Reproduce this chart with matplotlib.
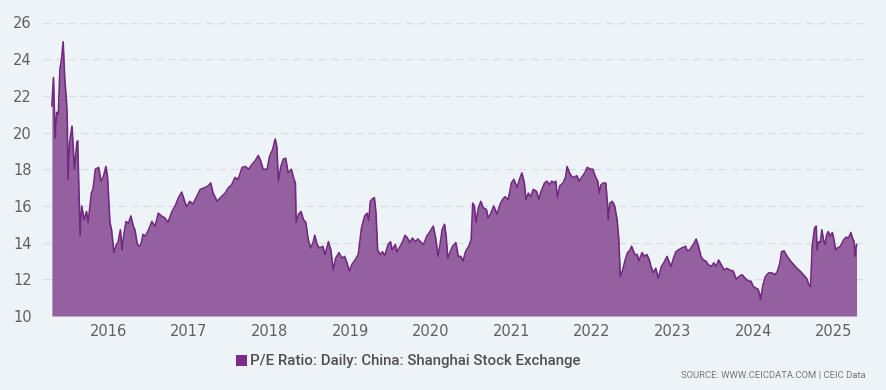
import matplotlib
matplotlib.use("Agg")
import matplotlib.pyplot as plt
from matplotlib.patches import Rectangle

# decimal-year positions and P/E values
years = [
    2015.30, 2015.32, 2015.34, 2015.36, 2015.38, 2015.40, 2015.42, 2015.44, 2015.46, 2015.48,
    2015.49, 2015.50, 2015.52, 2015.55, 2015.58, 2015.61, 2015.62, 2015.64, 2015.65, 2015.67,
    2015.70, 2015.73, 2015.75, 2015.79, 2015.81, 2015.84, 2015.88, 2015.91, 2015.94, 2015.97,
    2015.99, 2016.02, 2016.04, 2016.07, 2016.10, 2016.12, 2016.15, 2016.17, 2016.19, 2016.22,
    2016.25, 2016.28, 2016.31, 2016.33, 2016.36, 2016.39, 2016.41, 2016.43, 2016.46, 2016.50,
    2016.54, 2016.58, 2016.62, 2016.66, 2016.70, 2016.74, 2016.79, 2016.83, 2016.87, 2016.91,
    2016.94, 2016.97, 2017.01, 2017.05, 2017.10, 2017.14, 2017.20, 2017.24, 2017.27, 2017.30,
    2017.35, 2017.39, 2017.45, 2017.49, 2017.53, 2017.57, 2017.61, 2017.66, 2017.70, 2017.74,
    2017.78, 2017.82, 2017.86, 2017.89, 2017.92, 2017.97, 2018.00, 2018.04, 2018.07, 2018.09,
    2018.11, 2018.14, 2018.17, 2018.20, 2018.23, 2018.27, 2018.30, 2018.32, 2018.33, 2018.36,
    2018.39, 2018.42, 2018.45, 2018.48, 2018.51, 2018.54, 2018.56, 2018.59, 2018.62, 2018.66,
    2018.69, 2018.73, 2018.76, 2018.79, 2018.82, 2018.86, 2018.90, 2018.93, 2018.96, 2018.99,
    2019.02, 2019.06, 2019.10, 2019.14, 2019.18, 2019.21, 2019.23, 2019.25, 2019.28, 2019.30,
    2019.32, 2019.34, 2019.37, 2019.40, 2019.43, 2019.47, 2019.50, 2019.52, 2019.56, 2019.58,
    2019.62, 2019.65, 2019.68, 2019.71, 2019.74, 2019.77, 2019.81, 2019.84, 2019.88, 2019.91,
    2019.95, 2019.99, 2020.03, 2020.06, 2020.09, 2020.12, 2020.14, 2020.17, 2020.19, 2020.21,
    2020.24, 2020.27, 2020.31, 2020.34, 2020.37, 2020.40, 2020.43, 2020.47, 2020.50, 2020.52,
    2020.54, 2020.56, 2020.59, 2020.62, 2020.65, 2020.69, 2020.71, 2020.74, 2020.78, 2020.82,
    2020.86, 2020.89, 2020.92, 2020.96, 2021.00, 2021.03, 2021.07, 2021.10, 2021.13, 2021.16,
    2021.18, 2021.21, 2021.24, 2021.27, 2021.31, 2021.34, 2021.36, 2021.41, 2021.44, 2021.47,
    2021.50, 2021.53, 2021.55, 2021.57, 2021.60, 2021.64, 2021.67, 2021.69, 2021.72, 2021.75,
    2021.78, 2021.81, 2021.84, 2021.87, 2021.91, 2021.94, 2021.98, 2022.01, 2022.04, 2022.07,
    2022.09, 2022.11, 2022.14, 2022.17, 2022.19, 2022.20, 2022.22, 2022.25, 2022.28, 2022.31,
    2022.33, 2022.35, 2022.38, 2022.41, 2022.44, 2022.47, 2022.49, 2022.53, 2022.56, 2022.58,
    2022.62, 2022.65, 2022.68, 2022.71, 2022.73, 2022.76, 2022.79, 2022.82, 2022.86, 2022.89,
    2022.93, 2022.95, 2022.98, 2023.01, 2023.04, 2023.07, 2023.11, 2023.16, 2023.18, 2023.21,
    2023.24, 2023.27, 2023.29, 2023.32, 2023.35, 2023.38, 2023.41, 2023.44, 2023.48, 2023.51,
    2023.54, 2023.57, 2023.60, 2023.64, 2023.67, 2023.71, 2023.75, 2023.79, 2023.82, 2023.86,
    2023.90, 2023.94, 2023.97, 2024.00, 2024.04, 2024.06, 2024.08, 2024.09, 2024.12, 2024.15,
    2024.19, 2024.23, 2024.27, 2024.30, 2024.33, 2024.35, 2024.38, 2024.42, 2024.46, 2024.50,
    2024.54, 2024.58, 2024.62, 2024.66, 2024.69, 2024.71, 2024.73, 2024.76, 2024.78, 2024.79,
    2024.81, 2024.83, 2024.85, 2024.87, 2024.89, 2024.91, 2024.93, 2024.95, 2024.98, 2025.00,
    2025.02, 2025.04, 2025.08, 2025.12, 2025.15, 2025.18, 2025.21, 2025.23, 2025.25, 2025.26,
    2025.28,
]
pe_ratio = [
    21.45, 23.0, 19.7, 21.1, 21.0, 23.45, 24.0, 24.95, 22.9, 21.8,
    20.9, 17.45, 19.45, 20.35, 18.0, 19.45, 19.55, 16.0, 14.4, 16.0,
    15.25, 15.7, 15.1, 16.7, 16.9, 18.0, 18.1, 17.35, 17.6, 18.15,
    17.6, 15.1, 14.7, 13.45, 13.9, 14.0, 14.7, 13.6, 14.35, 15.15,
    15.05, 15.45, 14.9, 14.7, 13.9, 13.8, 14.0, 14.45, 14.35, 14.7,
    15.15, 14.9, 15.6, 15.45, 15.35, 15.1, 15.7, 16.0, 16.45, 16.75,
    16.35, 15.95, 16.25, 16.1, 16.55, 16.9, 17.0, 17.1, 17.25, 16.7,
    16.25, 16.45, 16.7, 17.0, 17.15, 17.55, 17.45, 18.1, 18.15, 18.0,
    18.25, 18.45, 18.75, 18.45, 18.0, 18.0, 18.7, 19.1, 19.65, 19.25,
    17.35, 18.15, 18.55, 18.6, 17.8, 18.0, 17.5, 17.25, 15.1, 15.55,
    15.7, 15.25, 15.1, 14.15, 13.7, 14.0, 14.4, 13.9, 13.7, 13.8,
    13.35, 14.05, 13.6, 12.5, 13.15, 13.45, 13.15, 13.25, 12.9, 12.45,
    12.8, 13.05, 13.35, 14.8, 15.45, 15.6, 15.2, 16.25, 16.4, 16.45,
    15.6, 13.6, 13.35, 13.5, 13.3, 13.9, 14.05, 13.6, 13.9, 13.5,
    13.8, 14.05, 14.4, 14.25, 14.0, 14.25, 14.05, 14.2, 14.0, 13.9,
    14.35, 14.6, 14.9, 14.25, 13.25, 14.05, 14.7, 15.0, 14.35, 13.15,
    13.5, 13.8, 14.0, 13.25, 13.25, 13.0, 13.5, 13.8, 14.15, 16.15,
    16.0, 15.1, 15.9, 16.25, 15.9, 15.8, 15.35, 15.55, 16.0, 15.55,
    16.1, 16.35, 16.5, 16.35, 17.25, 17.45, 17.0, 17.45, 17.8, 17.25,
    16.35, 16.7, 16.5, 16.9, 16.8, 16.35, 16.7, 17.25, 17.35, 17.15,
    17.35, 17.25, 17.35, 16.45, 17.1, 17.25, 17.55, 18.15, 17.8, 17.6,
    17.55, 17.65, 17.35, 17.55, 17.8, 18.1, 18.0, 18.0, 17.6, 17.35,
    16.7, 17.15, 17.25, 17.25, 16.15, 15.25, 16.15, 16.25, 16.0, 15.25,
    14.25, 12.15, 12.5, 13.05, 13.45, 13.6, 13.8, 13.35, 13.35, 13.0,
    13.45, 13.25, 13.35, 13.05, 12.7, 12.35, 12.6, 12.05, 12.7, 12.9,
    13.25, 13.0, 12.7, 13.15, 13.5, 13.6, 13.7, 13.8, 13.55, 13.6,
    13.8, 14.0, 14.2, 13.8, 13.25, 13.05, 13.0, 12.8, 12.7, 12.9,
    12.7, 13.05, 12.8, 12.5, 12.6, 12.5, 12.45, 12.0, 12.15, 12.25,
    12.05, 11.9, 11.9, 11.6, 11.5, 11.45, 11.15, 10.9, 11.7, 12.15,
    12.35, 12.35, 12.25, 12.45, 12.9, 13.5, 13.55, 13.25, 13.0, 12.8,
    12.6, 12.45, 12.25, 12.05, 11.7, 11.6, 13.8, 14.8, 14.9, 13.6,
    14.05, 14.0, 14.7, 14.15, 13.9, 14.45, 14.6, 14.35, 14.55, 14.15,
    13.6, 13.7, 13.8, 14.15, 14.3, 14.25, 14.55, 14.25, 14.05, 13.25,
    13.9,
]
year_ticks = [2016, 2017, 2018, 2019, 2020, 2021, 2022, 2023, 2024, 2025]
y_ticks = [10, 12, 14, 16, 18, 20, 22, 24, 26]
series_name = "P/E Ratio: Daily: China: Shanghai Stock Exchange"
source_text = "SOURCE: WWW.CEICDATA.COM | CEIC Data"

bg = "#eef3f8"
fill_col = "#95609f"
line_col = "#702a80"

fig = plt.figure(figsize=(8.87, 3.90), dpi=100, facecolor=bg)
ax = fig.add_axes([43 / 887, 1 - 316 / 390, (863 - 43) / 887, (316 - 22.5) / 390])
ax.set_facecolor(bg)

ax.fill_between(years, pe_ratio, 10, color=fill_col, linewidth=0, zorder=2)
ax.plot(years, pe_ratio, color=line_col, linewidth=1.2, zorder=3)

ax.set_xlim(2015.19, 2025.36)
ax.set_ylim(10, 26)
ax.set_yticks(y_ticks)
ax.set_xticks(year_ticks)
ax.set_xticklabels([str(y) for y in year_ticks])
for s in ax.spines.values():
    s.set_visible(False)
ax.tick_params(axis="both", length=0, labelsize=10.5, colors="#606060")
ax.tick_params(axis="y", pad=8)
ax.tick_params(axis="x", pad=6)
ax.grid(axis="y", color="#d9dee5", linestyle=(0, (6, 4)), linewidth=0.9, zorder=1)
ax.grid(axis="x", visible=False)

# legend
fig.patches.append(Rectangle((236 / 887, 1 - 366 / 390), 11 / 887, 11 / 390,
                             transform=fig.transFigure, facecolor="#7b2c8b",
                             edgecolor="none"))
fig.text(250 / 887, 1 - 360.5 / 390, series_name, fontsize=10.8, color="#505050",
         va="center", ha="left", family="Roboto", fontweight="medium")
fig.text(866 / 887, 1 - 375.5 / 390, source_text, fontsize=6.8, color="#777777",
         va="center", ha="right", family="Roboto")

fig.savefig("out.png", dpi=100, facecolor=bg)
